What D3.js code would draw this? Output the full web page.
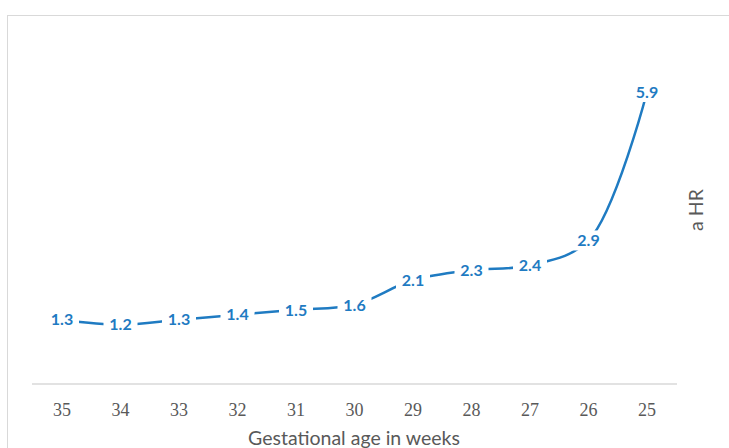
<!DOCTYPE html>
<html lang="en">
<head>
<meta charset="utf-8">
<script src="https://cdn.jsdelivr.net/npm/d3@7"></script>
<style>
body { margin: 0; background: #fff; }
</style>
</head>
<body>
<script>
// chart data
var weeks = ["35", "34", "33", "32", "31", "30", "29", "28", "27", "26", "25"];
var hr = [1.3, 1.2, 1.3, 1.4, 1.5, 1.6, 2.1, 2.3, 2.4, 2.9, 5.9];

var w = 729, h = 448;
var blue = "#1f7bc2";

var svg = d3.select("body").append("svg")
    .attr("width", w)
    .attr("height", h);

// outer chart frame
svg.append("rect")
    .attr("x", 7.5).attr("y", 15.5)
    .attr("width", 740).attr("height", 460)
    .attr("fill", "#fff")
    .attr("stroke", "#d9d9d9");

var x = d3.scalePoint()
    .domain(weeks)
    .range([62, 647]);

var y = d3.scaleLinear()
    .domain([0, 5.9])
    .range([384, 92]);

// baseline
svg.append("line")
    .attr("x1", 32).attr("x2", 677)
    .attr("y1", y(0)).attr("y2", y(0))
    .attr("stroke", "#d9d9d9")
    .attr("stroke-width", 1.5);

// x tick labels
svg.selectAll("text.tick")
    .data(weeks)
    .enter()
    .append("text")
    .attr("class", "tick")
    .attr("x", function(d) { return x(d); })
    .attr("y", 416)
    .attr("text-anchor", "middle")
    .style("font-family", "'Liberation Serif', 'DejaVu Serif', serif")
    .attr("font-size", "18px")
    .attr("fill", "#595959")
    .text(function(d) { return d; });

var pts = weeks.map(function(d, i) { return [x(d), y(hr[i])]; });

var line = d3.line()
    .curve(d3.curveCatmullRom.alpha(0.5));

svg.append("path")
    .attr("d", line(pts))
    .attr("fill", "none")
    .attr("stroke", blue)
    .attr("stroke-width", 2.5);

// labels with white boxes over the line
var lab = svg.selectAll("g.lab")
    .data(hr)
    .enter()
    .append("g")
    .attr("class", "lab")
    .attr("transform", function(d, i) { return "translate(" + x(weeks[i]) + "," + y(d) + ")"; });

lab.append("rect")
    .attr("x", -17).attr("y", -10)
    .attr("width", 34).attr("height", 20)
    .attr("fill", "#fff");

lab.append("text")
    .attr("text-anchor", "middle")
    .attr("dy", "0.36em")
    .style("font-family", "Lato, sans-serif")
    .attr("font-weight", "bold")
    .attr("font-size", "16px")
    .attr("fill", blue)
    .text(function(d) { return d.toFixed(1); });

// axis titles
svg.append("text")
    .attr("x", 354).attr("y", 445)
    .attr("text-anchor", "middle")
    .style("font-family", "Lato, sans-serif")
    .attr("font-size", "19.5px")
    .attr("fill", "#595959")
    .text("Gestational age in weeks");

svg.append("text")
    .attr("transform", "translate(703,210) rotate(-90)")
    .attr("text-anchor", "middle")
    .style("font-family", "Lato, sans-serif")
    .attr("font-size", "19.5px")
    .attr("fill", "#595959")
    .text("a HR");
</script>
</body>
</html>
